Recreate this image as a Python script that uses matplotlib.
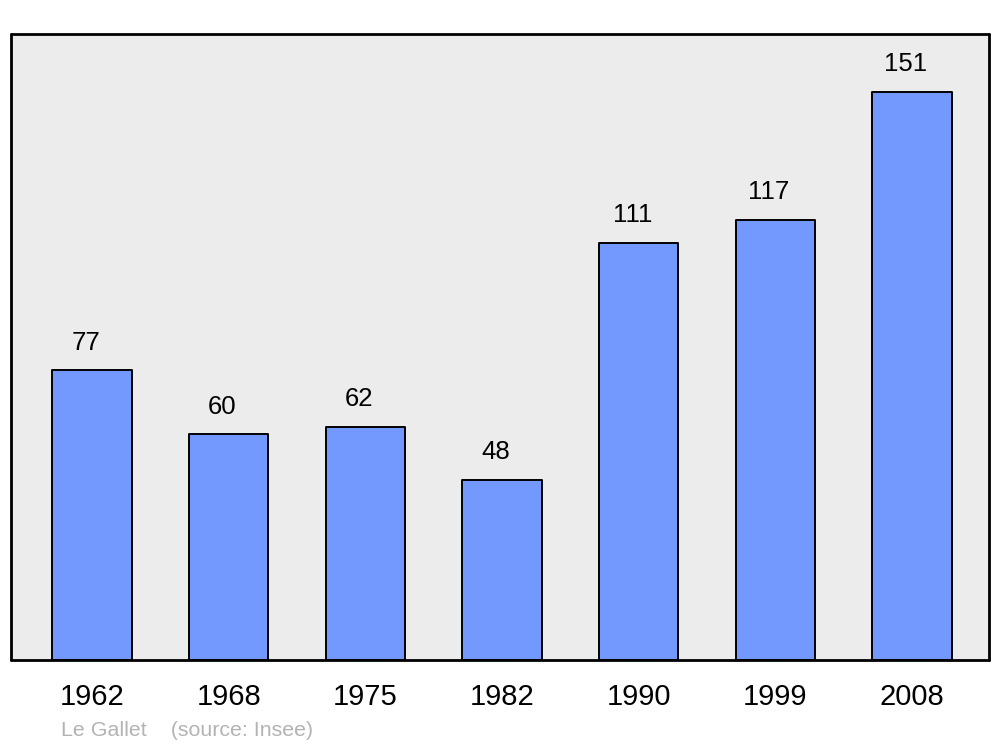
import matplotlib.pyplot as plt

years = ['1962', '1968', '1975', '1982', '1990', '1999', '2008']
population = [77, 60, 62, 48, 111, 117, 151]

plt.rcParams['font.family'] = ['Liberation Sans', 'DejaVu Sans']

fig = plt.figure(figsize=(10, 7.47), dpi=100)
ax = fig.add_axes([0.011, 0.1165, 0.978, 0.838])
ax.set_facecolor('#ececec')

x = list(range(len(years)))
bars = ax.bar(x, population, width=0.58, color='#7399ff', edgecolor='black',
              linewidth=1.4, zorder=2)
for b in bars:
    b.set_joinstyle('round')

for xi, v in zip(x, population):
    ax.annotate(str(v), (xi, v), xytext=(-4.7, 20), textcoords='offset points',
                ha='center', va='center', fontsize=18.5)

ax.set_xlim(-0.593, 6.563)
ax.set_ylim(0, 166.5)
ax.set_xticks(x)
ax.set_xticklabels(years, fontsize=21)
ax.tick_params(axis='x', length=0, pad=16.5)
ax.set_yticks([])

for s in ax.spines.values():
    s.set_linewidth(2)
    s.set_capstyle('round')

fig.text(0.061, 1 - 730 / 747, 'Le Gallet    (source: Insee)', color='#b3b3b3',
         fontsize=15.4, ha='left', va='center')

fig.savefig('out.png', dpi=100)
plt.close(fig)
